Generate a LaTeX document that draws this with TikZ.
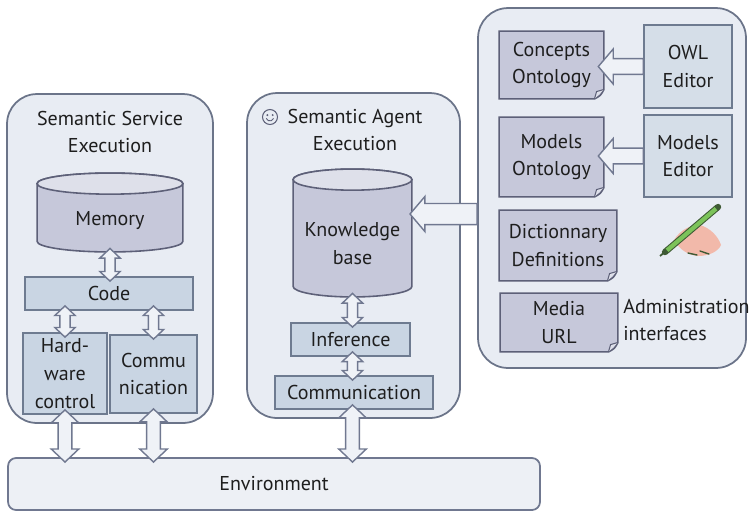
\documentclass[tikz,border=0pt]{standalone}
\usepackage{fontspec}
\setmainfont{PT Sans}
\usetikzlibrary{calc}

\definecolor{paneback}{HTML}{E8ECF3}
\definecolor{paneline}{HTML}{6B7489}
\definecolor{drumbody}{HTML}{C6C8DA}
\definecolor{drumtop}{HTML}{DEE0EA}
\definecolor{drumline}{HTML}{5D6078}
\definecolor{boxback}{HTML}{C9D5E3}
\definecolor{boxline}{HTML}{6E7B90}
\definecolor{editback}{HTML}{D5DEE8}
\definecolor{envback}{HTML}{EDF0F5}
\definecolor{arrowback}{HTML}{EFF2F7}
\definecolor{arrowline}{HTML}{707890}
\definecolor{inktext}{HTML}{1E1E1E}
\definecolor{handskin}{HTML}{F2B9AA}
\definecolor{pencilgreen}{HTML}{7CC35A}
\definecolor{pencildark}{HTML}{3E5A34}

\tikzset{
  lbl/.style={font=\fontsize{11.4}{15.8}\selectfont, text=inktext, align=center, inner sep=0pt},
  pane/.style={draw=paneline, fill=paneback, line width=1pt, rounded corners=0.6cm},
  block/.style={lbl, draw=boxline, fill=boxback, line width=0.9pt},
  editor/.style={block, fill=editback},
  fatarrow/.style={draw=arrowline, fill=arrowback, line width=0.8pt},
  drum/.style={lbl, path picture={
    \draw[draw=drumline, fill=drumbody, line width=0.9pt]
      let \p1=(path picture bounding box.south west), \p2=(path picture bounding box.north east) in
      (\x1+0.6pt,\y2-6.6pt) -- (\x1+0.6pt,\y1+6.6pt)
      arc[start angle=180, end angle=360, x radius={(\x2-\x1)/2-0.6pt}, y radius=6pt]
      -- (\x2-0.6pt,\y2-6.6pt)
      arc[start angle=0, end angle=180, x radius={(\x2-\x1)/2-0.6pt}, y radius=6pt] -- cycle;
    \draw[draw=drumline, fill=drumtop, line width=0.9pt]
      let \p1=(path picture bounding box.south west), \p2=(path picture bounding box.north east) in
      ({(\x1+\x2)/2},\y2-6.6pt) ellipse[x radius={(\x2-\x1)/2-0.6pt}, y radius=6pt];
  }},
  sheet/.style={lbl, path picture={
    \draw[draw=drumline, fill=drumbody, line width=0.9pt]
      let \p1=(path picture bounding box.south west), \p2=(path picture bounding box.north east) in
      (\x1+0.6pt,\y2-0.6pt) -- (\x2-0.6pt,\y2-0.6pt) -- (\x2-0.6pt,\y1+6pt)
      .. controls (\x2-2.5pt,\y1+2.5pt) .. (\x2-6pt,\y1+0.6pt)
      -- (\x1+0.6pt,\y1+0.6pt) -- cycle;
    \draw[draw=drumline, fill=drumtop, line width=0.6pt]
      let \p1=(path picture bounding box.south west), \p2=(path picture bounding box.north east) in
      (\x2-0.6pt,\y1+6pt) -- (\x2-4.8pt,\y1+4.8pt) -- (\x2-6pt,\y1+0.6pt);
  }}
}

% double headed fat arrow, top point first, optional size factor
\newcommand\updown[3][1]{%
  \draw[fatarrow] let \p1=#2, \p2=#3 in
    (\x1,\y1+2.8pt) -- (\x1+#1*5.8pt,\y1+2.8pt-#1*5.5pt) -- (\x1+#1*2.9pt,\y1+2.8pt-#1*5.5pt)
    -- (\x1+#1*2.9pt,\y2-2.8pt+#1*5.5pt) -- (\x1+#1*5.8pt,\y2-2.8pt+#1*5.5pt) -- (\x1,\y2-2.8pt)
    -- (\x1-#1*5.8pt,\y2-2.8pt+#1*5.5pt) -- (\x1-#1*2.9pt,\y2-2.8pt+#1*5.5pt)
    -- (\x1-#1*2.9pt,\y1+2.8pt-#1*5.5pt) -- (\x1-#1*5.8pt,\y1+2.8pt-#1*5.5pt) -- cycle;}
% fat arrow pointing left, tail first
\newcommand\leftfat[3][4.5pt]{%
  \draw[fatarrow] let \p1=#2, \p2=#3 in
    (\x2,\y1) -- (\x2+8.5pt,\y1+10pt) -- (\x2+8.5pt,\y1+#1) -- (\x1,\y1+#1)
    -- (\x1,\y1-#1) -- (\x2+8.5pt,\y1-#1) -- (\x2+8.5pt,\y1-10pt) -- cycle;}

\begin{document}
\begin{tikzpicture}[x=0.02cm, y=-0.02cm]
\fill[white] (0,0) rectangle (749,512);
\useasboundingbox (0,0) rectangle (749,512);

\node[pane, minimum width=4.12cm, minimum height=6.58cm] (service) at (110,258.5) {};
\node[pane, minimum width=4.26cm, minimum height=6.5cm] (agent) at (353.5,255.5) {};
\node[pane, minimum width=5.36cm, minimum height=7.2cm] (admin) at (612,188) {};
\node[lbl, draw=arrowline, fill=envback, line width=1pt, rounded corners=0.16cm,
  minimum width=10.64cm, minimum height=1.04cm] (env) at (274,484) {Environment};

% service side
\node[lbl] (svctitle) at (110,132) {Semantic Service\\Execution};
\node[drum, minimum width=2.96cm, minimum height=1.62cm, text height=17pt] (memory) at (110,212.5) {Memory};
\node[block, minimum width=3.36cm, minimum height=0.66cm] (code) at (109,293.5) {Code};
\node[block, minimum width=1.68cm, minimum height=1.62cm] (hwctrl) at (65,373.5) {Hard-\\ware\\control};
\node[block, minimum width=1.74cm, minimum height=1.56cm] (svccomm) at (153.5,374) {Commu\\nication};

% agent side
\node[circle, draw=drumline, fill=paneback, line width=0.6pt, minimum size=0.3cm, inner sep=0pt] (smiley) at (270,117) {};
\fill[drumline] ([shift={(-1.5pt,1.1pt)}]smiley.center) circle (0.6pt)
  ([shift={(1.5pt,1.1pt)}]smiley.center) circle (0.6pt);
\draw[drumline, line width=0.5pt] ([shift={(-2.1pt,-0.8pt)}]smiley.center) arc[start angle=200, end angle=340, radius=2.2pt];
\node[lbl] (agttitle) at (355,130) {Semantic Agent\\Execution};
\node[drum, minimum width=2.42cm, minimum height=2.6cm, text height=36pt] (kb) at (352.5,233) {Knowledge\\base};
\node[block, minimum width=2.38cm, minimum height=0.66cm] (infer) at (350.5,339.5) {Inference};
\node[block, minimum width=3.16cm, minimum height=0.66cm] (agtcomm) at (354,392.5) {Communication};

% administration side
\node[sheet, minimum width=2.14cm, minimum height=1.4cm] (concepts) at (551.5,65) {Concepts\\Ontology};
\node[editor, minimum width=1.76cm, minimum height=1.66cm] (owl) at (688,66.5) {OWL\\Editor};
\node[sheet, minimum width=2.14cm, minimum height=1.64cm] (modonto) at (551.5,157) {Models\\Ontology};
\node[editor, minimum width=1.76cm, minimum height=1.64cm] (modedit) at (688,156) {Models\\Editor};
\node[sheet, minimum width=2.4cm, minimum height=1.46cm] (dict) at (558,245.5) {Dictionnary\\Definitions};
\node[sheet, minimum width=2.4cm, minimum height=1.22cm] (media) at (559,322.5) {Media\\URL};
\node[lbl, align=left, anchor=west] (adminlbl) at (623,320) {Administration\\interfaces};

% hand with pencil
\fill[handskin] (674,240) .. controls (680,230) and (690,225) .. (700,225)
  .. controls (710,228) and (718,236) .. (721,245)
  .. controls (718,252) and (708,256) .. (698,256)
  .. controls (688,255) and (680,250) .. (674,240) -- cycle;
\draw[pencildark, line width=0.8pt, line cap=round] (688,253) -- (697,255) (700,251) -- (709,254);
\draw[pencildark, line width=3.6pt, line cap=round] (665,252) -- (718,207);
\draw[pencilgreen, line width=2.4pt] (667,250.3) -- (716,208.7);
\draw[pencildark, line width=1pt] (660,256) -- (666,251);

% connectors
\updown{(memory.south)}{(code.north)}
\updown{(code.south -| hwctrl.north)}{(hwctrl.north)}
\updown{(code.south -| svccomm.north)}{(svccomm.north)}
\updown[1.35]{(hwctrl.south)}{(hwctrl.south |- env.north)}
\updown[1.35]{(svccomm.south)}{(svccomm.south |- env.north)}
\updown{(kb.south)}{(kb.south |- infer.north)}
\updown{(infer.south -| kb.south)}{(kb.south |- agtcomm.north)}
\updown[1.35]{(agtcomm.south -| kb.south)}{(kb.south |- env.north)}
\coordinate (kbport) at (410,214);
\leftfat[6pt]{(admin.west |- kbport)}{(kbport)}
\leftfat{(owl.west)}{([xshift=-4pt]concepts.east)}
\leftfat{(modedit.west)}{([xshift=-4pt]modonto.east)}
\end{tikzpicture}
\end{document}
